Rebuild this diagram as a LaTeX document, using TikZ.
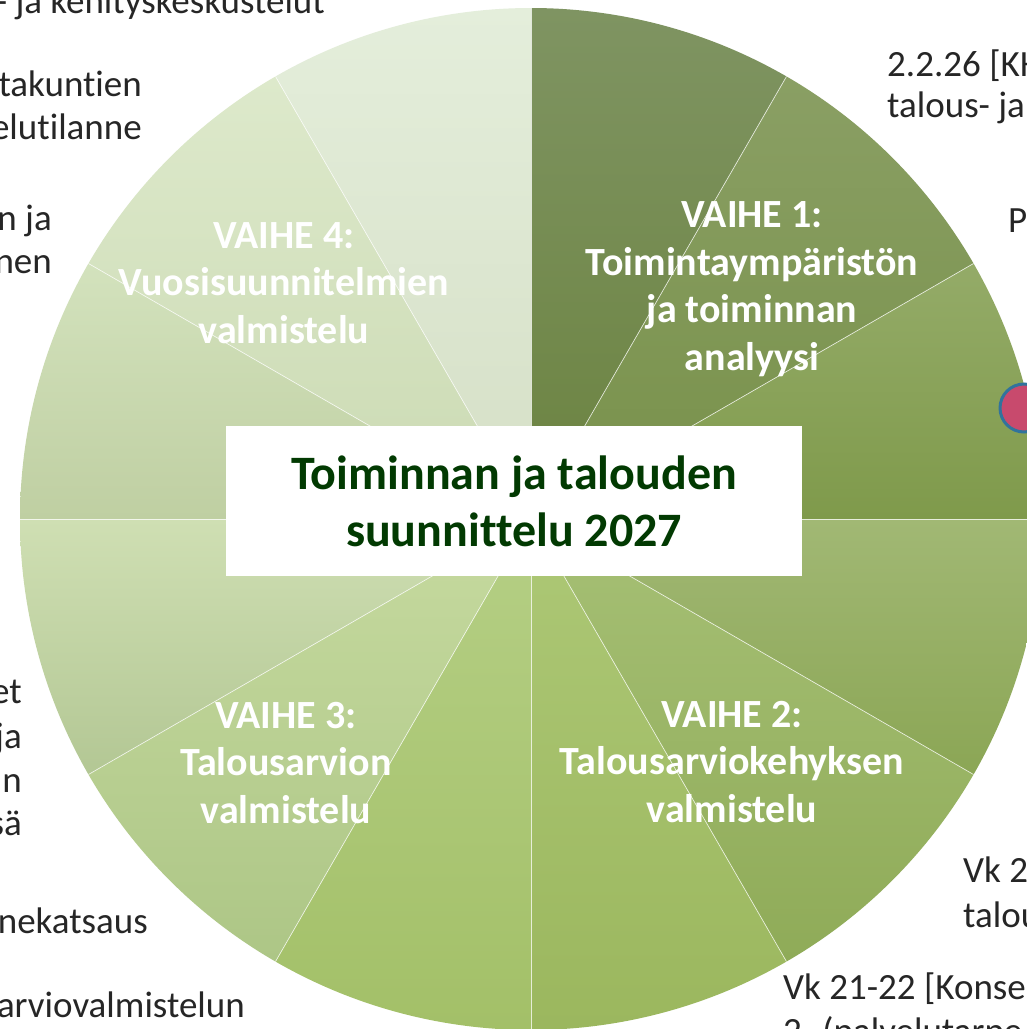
\documentclass[tikz,border=0pt]{standalone}
\usepackage{fontspec}
\setmainfont{Carlito}[Ligatures=NoCommon]
\definecolor{w1t}{HTML}{7F9462}\definecolor{w1b}{HTML}{6B8340}
\definecolor{w2t}{HTML}{8A9F64}\definecolor{w2b}{HTML}{78914A}
\definecolor{w3t}{HTML}{94AB68}\definecolor{w3b}{HTML}{7F9A4B}
\definecolor{w4t}{HTML}{A1B874}\definecolor{w4b}{HTML}{8BA655}
\definecolor{w5t}{HTML}{A6C075}\definecolor{w5b}{HTML}{8FAB58}
\definecolor{w6t}{HTML}{ADC876}\definecolor{w6b}{HTML}{9BB75E}
\definecolor{w7t}{HTML}{B5CF85}\definecolor{w7b}{HTML}{A3C068}
\definecolor{w8t}{HTML}{C6DA9F}\definecolor{w8b}{HTML}{ADC686}
\definecolor{w9t}{HTML}{CFDFB3}\definecolor{w9b}{HTML}{B3C794}
\definecolor{w10t}{HTML}{D3E2BD}\definecolor{w10b}{HTML}{BFCFA2}
\definecolor{w11t}{HTML}{DDE9CB}\definecolor{w11b}{HTML}{CBDAB3}
\definecolor{w12t}{HTML}{E4EEDB}\definecolor{w12b}{HTML}{D5DFC6}
\definecolor{txt}{HTML}{262626}
\definecolor{titleg}{RGB}{2,58,2}
\definecolor{dotpink}{HTML}{C84A6D}
\definecolor{dotblue}{HTML}{31739C}
\tikzset{
  lbl/.style={text=white, font=\fontsize{40}{47.5}\selectfont\bfseries, align=center, inner sep=0pt, anchor=base},
  outer/.style={text=txt, font=\fontsize{37}{43}\selectfont, inner sep=0pt},
  sepline/.style={white, opacity=0.75, line width=0.7pt},
  titlebox/.style={fill=white, minimum width=576pt, minimum height=150pt, inner sep=0pt, align=center,
     text=titleg, font=\fontsize{48}{57}\selectfont\bfseries},
  dotnode/.style={circle, fill=dotpink, draw=dotblue, line width=3pt, minimum size=48pt, inner sep=0pt}
}
\begin{document}
\begin{tikzpicture}[x=1pt,y=-1pt]
\useasboundingbox (0,0) rectangle (1027,1029);
\fill[white] (0,0) rectangle (1027,1029);
\coordinate (C) at (531,519);
% wedges: visual start angle / top colour / bottom colour
\foreach \a/\t/\b in {60/w1t/w1b,30/w2t/w2b,0/w3t/w3b,-30/w4t/w4b,-60/w5t/w5b,-90/w6t/w6b,
  -120/w7t/w7b,-150/w8t/w8b,180/w9t/w9b,150/w10t/w10b,120/w11t/w11b,90/w12t/w12b}{
  \shade[top color=\t, bottom color=\b] (C) -- ++(-\a:511) arc[start angle=-\a, end angle=-\a-30, radius=511] -- cycle;
}
% separators
\foreach \a in {0,30,...,330}{
  \draw[sepline] (C) -- ++(-\a:511);
}
% centre title
\node[titlebox] (title) at (514,501) {Toiminnan ja talouden\\suunnittelu 2027};
% phase labels (anchor = baseline of last line)
\node[lbl] (v1) at (752,370) {VAIHE 1:\\Toimintaympäristön\\ja toiminnan\\analyysi};
\node[lbl] (v2) at (732,822) {VAIHE 2:\\Talousarviokehyksen\\valmistelu};
\node[lbl] (v3) at (286,823) {VAIHE 3:\\Talousarvion\\valmistelu};
\node[lbl] (v4) at (284,343) {VAIHE 4:\\Vuosisuunnitelmien\\valmistelu};
% marker dot
\node[dotnode] (dot) at (1024,408) {};
% outer texts (cropped by the page)
\node[outer, anchor=base east] (tl0) at (325,13) {- ja kehityskeskustelut};
\node[outer, anchor=base east] (tl1) at (142,96) {takuntien};
\node[outer, anchor=base east] (tl2) at (142,139) {elutilanne};
\node[outer, anchor=base east] (tl3) at (52,230) {n ja};
\node[outer, anchor=base east] (tl4) at (52,273) {nen};
\node[outer, anchor=base east] (bl1) at (22,703) {et};
\node[outer, anchor=base east] (bl2) at (22,748) {ja};
\node[outer, anchor=base east] (bl3) at (22,792) {n};
\node[outer, anchor=base east] (bl4) at (22,835) {sä};
\node[outer, anchor=base east] (bl5) at (148,933) {nekatsaus};
\node[outer, anchor=base east] (bl6) at (245,1017) {arviovalmistelun};
\node[outer, anchor=base west] (tr1) at (887,76) {2.2.26 [KH};
\node[outer, anchor=base west] (tr2) at (887,117) {talous- ja};
\node[outer, anchor=base west] (tr3) at (1008,232) {P};
\node[outer, anchor=base west] (br1) at (963,882) {Vk 2};
\node[outer, anchor=base west] (br2) at (963,927) {talou};
\node[outer, anchor=base west] (br3) at (783,999) {Vk 21-22 [Konse};
\node[outer, anchor=base west] (br4) at (783,1043) {2. (palvelutarpe};
\end{tikzpicture}
\end{document}
